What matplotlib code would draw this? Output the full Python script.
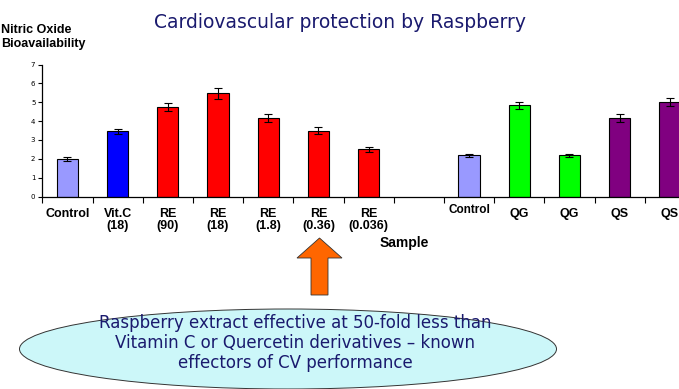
import matplotlib
matplotlib.use('Agg')
import matplotlib.pyplot as plt
from matplotlib.patches import Ellipse, FancyArrow
import numpy as np

labels = ['Control', 'Vit.C\n(18)', 'RE\n(90)', 'RE\n(18)', 'RE\n(1.8)', 'RE\n(0.36)', 'RE\n(0.036)',
          '', 'Control', 'QG', 'QG', 'QS', 'QS']
values = [2.0, 3.45, 4.75, 5.47, 4.15, 3.5, 2.5, 0, 2.18, 4.83, 2.18, 4.15, 5.0]
errors = [0.1, 0.15, 0.2, 0.3, 0.2, 0.2, 0.12, 0, 0.08, 0.2, 0.08, 0.2, 0.22]
colors = ['#9999ff', '#0000ff', '#ff0000', '#ff0000', '#ff0000', '#ff0000', '#ff0000',
          'none', '#9999ff', '#00ff00', '#00ff00', '#800080', '#800080']

title = 'Cardiovascular protection by Raspberry'
ylabel = 'Nitric Oxide\nBioavailability'
xlabel = 'Sample'
note = ('Raspberry extract effective at 50-fold less than\n'
        'Vitamin C or Quercetin derivatives \u2013 known\n'
        'effectors of CV performance')

W, H = 679, 389
fig = plt.figure(figsize=(W / 100, H / 100), dpi=100)
fig.patch.set_facecolor('white')

# axes extend past the right edge like the original slide
x0, x1 = 42.3, 694.9
y0, y1 = 196.5, 64.5
ax = fig.add_axes([x0 / W, 1 - y0 / H, (x1 - x0) / W, (y0 - y1) / H])

x = np.arange(len(values))
for i in x:
    if values[i] == 0:
        continue
    ax.bar(i, values[i], width=0.42, color=colors[i], edgecolor='black', linewidth=0.8, zorder=2)
    ax.errorbar(i, values[i], yerr=errors[i], fmt='none', ecolor='black', elinewidth=0.8,
                capsize=3, capthick=0.8, zorder=3)

ax.set_xlim(-0.5, len(values) - 0.5)
ax.set_ylim(0, 7)
ax.set_yticks(range(8))
ax.tick_params(axis='y', labelsize=5, length=3, width=0.8, pad=2)
ax.set_xticks(x)
ax.set_xticklabels([])
ax.set_xticks(np.arange(len(values) + 1) - 0.5, minor=True)
ax.tick_params(axis='x', which='major', length=0)
ax.tick_params(axis='x', which='minor', length=4, width=0.8)
for s in ['top', 'right']:
    ax.spines[s].set_visible(False)
for s in ['left', 'bottom']:
    ax.spines[s].set_linewidth(0.9)

for i, lab in enumerate(labels):
    if i == 8:
        ax.text(i, -0.72, lab, ha='center', va='center', fontsize=8.5, fontweight='bold',
                family='Liberation Sans')
    else:
        ax.text(i, -0.6, lab, ha='center', va='top', fontsize=9, fontweight='bold',
                family='Liberation Sans', linespacing=1.0)

fig.text(404 / W, 1 - 242.5 / H, xlabel, ha='center', va='center', fontsize=10,
         fontweight='bold', family='Liberation Sans')
fig.text(0.002, 1 - 37 / H, ylabel, ha='left', va='center', fontsize=9,
         fontweight='bold', family='Liberation Sans', linespacing=1.15)
fig.text(340 / W, 1 - 22 / H, title, ha='center', va='center', fontsize=13.5,
         color='#1a1a6e', family='DejaVu Sans')

# arrow and callout
fig.patches.append(FancyArrow(319.5 / W, 1 - 295 / H, 0, (295 - 238) / H, width=17 / W,
                              head_width=45 / W, head_length=20 / H, length_includes_head=True,
                              transform=fig.transFigure, facecolor='#ff6600',
                              edgecolor='#333333', linewidth=0.6))
fig.patches.append(Ellipse((288 / W, 1 - 349 / H), 537 / W, 80 / H, transform=fig.transFigure,
                           facecolor='#ccf7f9', edgecolor='#333333', linewidth=0.7))
fig.text(295 / W, 1 - 343 / H, note, ha='center', va='center', fontsize=12,
         color='#1a1a6e', family='DejaVu Sans', linespacing=1.15)

fig.savefig('out.png', dpi=100)
